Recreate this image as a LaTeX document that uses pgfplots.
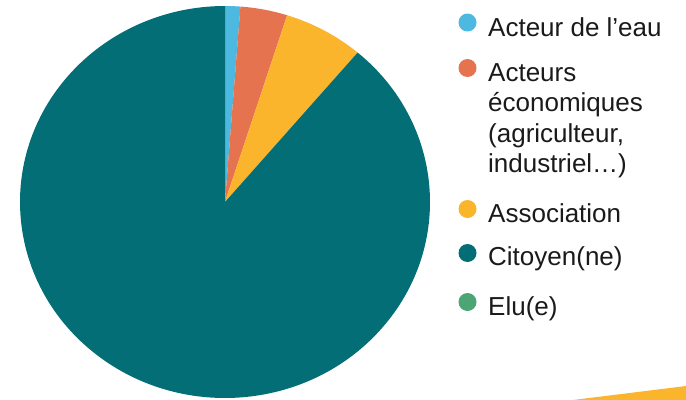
\documentclass[border=0pt]{standalone}
\usepackage{pgfplots}
\usepackage{pgfplotstable}
\pgfplotsset{compat=1.18}
\usepackage{fontspec}
\setmainfont{Liberation Sans}

\definecolor{eauBlue}{HTML}{4DB8E0}
\definecolor{ecoOrange}{HTML}{E6734F}
\definecolor{assoYellow}{HTML}{FBB52D}
\definecolor{citTeal}{HTML}{036E76}
\definecolor{eluGreen}{HTML}{4CA574}
\definecolor{txt}{HTML}{1A1A1A}

% share of respondents (%), clockwise from 12 o'clock
\pgfplotstableread{
share colour
1.2   eauBlue
3.7   ecoOrange
6.3   assoYellow
88.8  citTeal
0     eluGreen
}\pietable

\begin{document}
\begin{tikzpicture}
\path[use as bounding box] (0,0) rectangle (686bp,-400bp);

\begin{axis}[
    at={(225bp,-202bp)}, anchor=center,
    scale only axis, width=410bp, height=392bp,
    xmin=-1, xmax=1, ymin=-1, ymax=1,
    hide axis,
]
\def\cum{0}
\pgfplotsforeachungrouped \i in {0,...,4}{%
  \pgfplotstablegetelem{\i}{share}\of\pietable \let\v\pgfplotsretval
  \pgfplotstablegetelem{\i}{colour}\of\pietable \let\c\pgfplotsretval
  \pgfmathsetmacro\a{90-\cum*3.6}%
  \pgfmathsetmacro\cum{\cum+\v}%
  \pgfmathsetmacro\b{90-\cum*3.6}%
  \ifdim\v pt>0pt
    \edef\temp{\noexpand\fill[\c] (axis cs:0,0) -- ++(\a:205bp and 196bp)
      arc[start angle=\a, end angle=\b, x radius=205bp, y radius=196bp] -- cycle;}%
    \temp
  \fi
}
\end{axis}

% legend
\begin{scope}[every node/.style={anchor=base west, inner sep=0pt, text=txt,
    font=\fontsize{26bp}{30bp}\selectfont}]
  \fill[eauBlue]    (467.5bp,-22.5bp) circle (9bp);
  \fill[ecoOrange]  (467.5bp,-68bp) circle (9bp);
  \fill[assoYellow] (467.5bp,-209bp) circle (9bp);
  \fill[citTeal]    (467.5bp,-253bp) circle (9bp);
  \fill[eluGreen]   (467.5bp,-302bp) circle (9bp);
  \node at (488bp,-36.5bp) {Acteur de l’eau};
  \node at (488bp,-81bp) {Acteurs};
  \node at (488bp,-111.5bp) {économiques};
  \node at (488bp,-142bp) {(agriculteur,};
  \node at (488bp,-172.5bp) {industriel…)};
  \node at (488bp,-222bp) {Association};
  \node at (488bp,-265bp) {Citoyen(ne)};
  \node at (488bp,-315bp) {Elu(e)};
\end{scope}

% slide decoration, bottom right
\fill[assoYellow] (573bp,-400bp) -- (686bp,-386bp) -- (686bp,-400bp) -- cycle;
\end{tikzpicture}
\end{document}
